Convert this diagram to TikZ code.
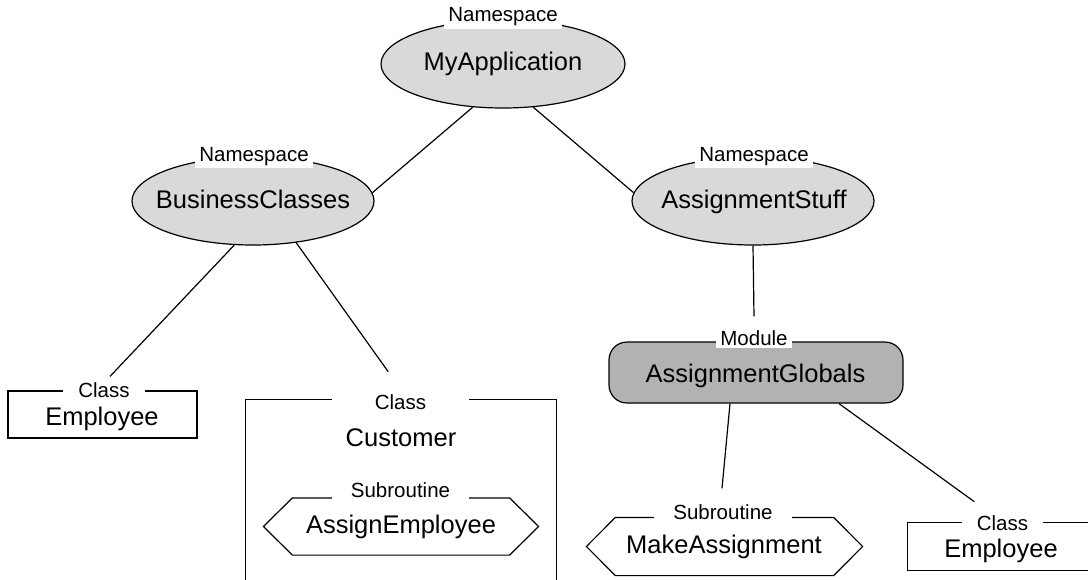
\documentclass[tikz,border=0pt]{standalone}
\usepackage{fontspec}
\setmainfont{Liberation Sans}
\usetikzlibrary{shapes.geometric}
\begin{document}
\begin{tikzpicture}[x=1pt,y=-1pt, line width=1.2pt,
  big/.style={font=\fontsize{25.5}{30}\selectfont, anchor=base, inner sep=0pt},
  small/.style={font=\fontsize{20.5}{24}\selectfont, anchor=base, fill=white, inner xsep=4pt, inner ysep=3pt},
  nsp/.style={ellipse, draw, fill=black!15, minimum width=244pt, minimum height=88pt, inner sep=0pt},
  modbox/.style={rectangle, rounded corners=18pt, draw, fill=black!30, minimum width=294pt, minimum height=61pt, inner sep=0pt},
  clsbox/.style={rectangle, draw, inner sep=0pt},
  hexbase/.style={rectangle, draw=none, inner sep=0pt, minimum width=274pt, minimum height=56pt}
]
\clip (0,0) rectangle (1088,579);
\fill[white] (0,0) rectangle (1088,579);

% shapes
\node[nsp] (myapp) at (503,64) {};
\node[nsp, minimum width=242pt] (busc) at (253,201) {};
\node[nsp, minimum width=242pt] (asgs) at (753,201) {};
\node[modbox] (ag) at (756,372.5) {};
\node[clsbox, minimum width=189pt, minimum height=47pt] (emp1) at (102.5,414.5) {};
\node[clsbox, minimum width=311pt, minimum height=300pt] (cust) at (401.2,549.3) {};
\node[clsbox, minimum width=188pt, minimum height=48pt] (emp2) at (1001.3,546.3) {};
\node[hexbase] (hexl) at (401,526.5) {};
\node[hexbase, minimum width=275pt, minimum height=57pt] (hexr) at (724.5,546.5) {};
\draw (hexl.west) -- ([xshift=29pt]hexl.north west) -- ([xshift=-29pt]hexl.north east) -- (hexl.east) -- ([xshift=-29pt]hexl.south east) -- ([xshift=29pt]hexl.south west) -- cycle;
\draw (hexr.west) -- ([xshift=29pt]hexr.north west) -- ([xshift=-29pt]hexr.north east) -- (hexr.east) -- ([xshift=-29pt]hexr.south east) -- ([xshift=29pt]hexr.south west) -- cycle;

% connectors
\draw (myapp.235) -- (busc.4);
\draw (myapp.305) -- (asgs.176);
\draw (busc.247) -- ([xshift=7.5pt,yshift=14pt]emp1.north);
\draw (busc.316) -- ([xshift=-13pt,yshift=27pt]cust.north);
\draw (asgs.south) -- ([xshift=-2pt,yshift=25pt]ag.north);
\draw ([xshift=-26pt]ag.south) -- ([xshift=-2.5pt,yshift=29pt]hexr.north);
\draw ([xshift=83pt]ag.south) -- ([xshift=-27pt,yshift=20pt]emp2.north);

% kind labels
\node[small] (nsT1) at (503,21.7) {Namespace};
\node[small] (nsT2) at (254,161) {Namespace};
\node[small] (nsT3) at (754,161) {Namespace};
\node[small] (modT) at (754,345) {Module};
\node[small, minimum width=82pt] (c1T) at (104,397) {Class};
\node[small, minimum width=137pt] (c2T) at (400.5,409) {Class};
\node[small, minimum width=137pt] (s1T) at (400.5,497.5) {Subroutine};
\node[small, minimum width=138pt] (s2T) at (723,519) {Subroutine};
\node[small, minimum width=81pt] (c3T) at (1002.5,530) {Class};

% names
\node[big] (myappT) at (503,70) {MyApplication};
\node[big] (buscT) at (253,208) {BusinessClasses};
\node[big] (asgsT) at (754,208) {AssignmentStuff};
\node[big] (agT) at (755.5,382.7) {AssignmentGlobals};
\node[big] (emp1T) at (102,425) {Employee};
\node[big] (custT) at (401,446.7) {Customer};
\node[big] (hexlT) at (401,533) {AssignEmployee};
\node[big] (hexrT) at (724,553) {MakeAssignment};
\node[big] (emp2T) at (1001,557) {Employee};
\end{tikzpicture}
\end{document}
